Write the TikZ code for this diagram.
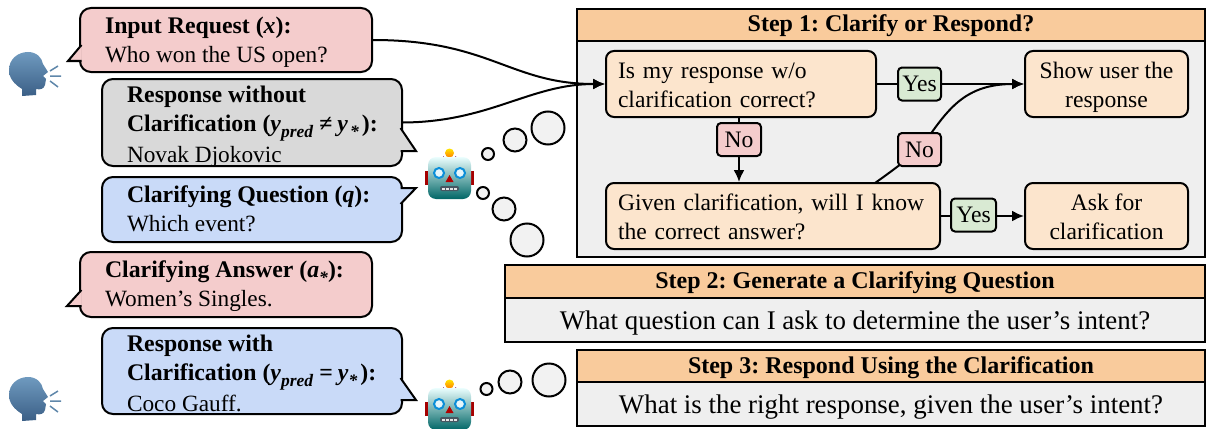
\documentclass[tikz,border=0pt]{standalone}
\usepackage{fontspec}
\setmainfont{Liberation Serif}
\usetikzlibrary{arrows.meta}
\definecolor{pinkfill}{HTML}{F4CCCC}
\definecolor{greyfill}{HTML}{D9D9D9}
\definecolor{bluefill}{HTML}{C9DAF8}
\definecolor{headfill}{HTML}{F9CB9C}
\definecolor{boxfill}{HTML}{FCE5CD}
\definecolor{yesfill}{HTML}{D9EAD3}
\definecolor{bodyfill}{HTML}{EFEFEF}
\definecolor{voicetop}{HTML}{6F9ABF}
\definecolor{voicelow}{HTML}{3B5F86}
\definecolor{raycol}{HTML}{5F87AA}
\newcommand{\bubblefont}{\frenchspacing\fontsize{23.3}{29}\selectfont}
\newcommand{\flowfont}{\frenchspacing\fontsize{23.6}{29}\selectfont}
\newcommand{\linestrut}{\rule[-8.7pt]{0pt}{29pt}}
\newcommand{\firststrut}{\rule[-8.7pt]{0pt}{35pt}}
\newcommand{\bubblehead}[1]{{\fontsize{23.8}{29}\selectfont\bfseries #1}}
\newcommand{\lowtext}[1]{\raisebox{-6pt}{\fontsize{17.5}{18}\selectfont\textit{#1}}}
\tikzset{
  every picture/.style={
    line width=2pt,
    >={Latex[width=11pt, length=12pt]}
  },
  bubble/.style={
    draw, rounded corners=11pt, inner sep=0pt
  },
  bubbletext/.style={
    anchor=west, align=left, inner sep=0pt, xshift=25pt, yshift=-2pt, font=\bubblefont
  },
  bubbletail/.style={
    fill=#1, line join=miter
  },
  stephead/.style={
    draw, fill=headfill, inner sep=0pt, text height=20pt, text depth=6pt,
    font=\frenchspacing\fontsize{24}{29}\selectfont\bfseries
  },
  stepbody/.style={
    draw, fill=bodyfill, inner sep=0pt, text height=24pt, text depth=6pt,
    font=\frenchspacing\fontsize{26.9}{32}\selectfont
  },
  question/.style={
    draw, fill=boxfill, rounded corners=8pt, minimum height=66pt, inner xsep=12pt, inner ysep=0pt, font=\flowfont
  },
  answer/.style={
    draw, rounded corners=4pt, inner sep=0pt, minimum height=33pt, font=\flowfont
  },
  thought/.style={
    circle, draw, fill=black!5, inner sep=0pt, minimum size=#1
  },
  speaker/.pic={
    \shade[top color=voicetop, bottom color=voicelow]
      (13,44) -- (13,37) .. controls (5,32) and (0,26) .. (0,18)
      .. controls (0,7) and (9,0) .. (19,0) .. controls (28,0) and (33,6) .. (34,12)
      -- (39,20) -- (34,24) -- (37,27) -- (36,33) .. controls (35,37) and (31,38) .. (27,37)
      -- (27,43) -- cycle;
    \draw[line width=1.5pt, color=raycol] (41,19) -- (49,14) (41,24) -- (52,24) (41,29) -- (49,35);
  },
  robot/.pic={
    \fill[red!65!black] (0,23) rectangle (49,37);
    \shade[top color=yellow!80!orange, bottom color=orange] (24.5,5) circle (4.5);
    \fill[violet!60!gray] (18,8) .. controls (20,12) and (29,12) .. (31,8) -- (31,10) -- (18,10) -- cycle;
    \shade[rounded corners=8pt, top color=black!5!cyan!8!white, middle color=cyan!30!gray!60, bottom color=cyan!40!black]
      (3,9) rectangle (46,51);
    \draw[color=cyan!75!blue, fill=black!5!cyan!10] (14,25) circle (5) (35,25) circle (5);
    \fill[red!70!black] (24.5,27) -- (20.5,34) -- (28.5,34) -- cycle;
    \fill[rounded corners=2pt, color=black!70!cyan] (15,38) rectangle (34,43);
    \foreach \tooth in {17,21,25,29}
      \fill[black!10] (\tooth,39.5) rectangle +(3,2.5);
  }
}
\begin{document}
\begin{tikzpicture}[x=1pt, y=-1pt]
  \useasboundingbox (0,0) rectangle (1206,428);
  % speech bubbles
  \node[bubble, fill=pinkfill, minimum width=292pt, minimum height=64pt] (input) at (226,40) {};
  \node[bubbletext] (inputtext) at (input.west)
    {\linestrut\bubblehead{Input Request (\textit{x}):}\\Who won the US open?\linestrut};
  \node[bubble, fill=greyfill, minimum width=300pt, minimum height=87pt] (nocl) at (252,122.5) {};
  \node[bubbletext, yshift=-2pt] (nocltext) at (nocl.west)
    {\linestrut\bubblehead{Response without}\\\bubblehead{Clarification (\textit{y}\lowtext{pred}\hspace{6pt}≠\hspace{5pt}\textit{y}\hspace{2pt}\lowtext{*}\hspace{3pt}):}\\Novak Djokovic\linestrut};
  \node[bubble, fill=bluefill, minimum width=300pt, minimum height=65pt] (cq) at (252,209.5) {};
  \node[bubbletext] (cqtext) at (cq.west)
    {\linestrut\bubblehead{Clarifying Question (\textit{q}):}\\Which event?\linestrut};
  \node[bubble, fill=pinkfill, minimum width=292pt, minimum height=65pt] (ca) at (226,284.5) {};
  \node[bubbletext] (catext) at (ca.west)
    {\linestrut\bubblehead{Clarifying Answer (\textit{a}\lowtext{*}):}\\Women’s Singles.\linestrut};
  \node[bubble, fill=bluefill, minimum width=300pt, minimum height=86pt] (wcl) at (252,371) {};
  \node[bubbletext, yshift=-2.5pt] (wcltext) at (wcl.west)
    {\linestrut\bubblehead{Response with}\\\bubblehead{Clarification (\textit{y}\lowtext{pred}\hspace{6pt}=\hspace{5pt}\textit{y}\lowtext{*}\hspace{3pt}):}\\Coco Gauff.\linestrut};
  \draw[bubbletail=pinkfill] (81.5,45) -- (68,61) -- (81.5,61);
  \draw[bubbletail=pinkfill] (81.5,290) -- (67,306) -- (81.5,306);
  \draw[bubbletail=greyfill] (400.5,128) -- (416,151) -- (400.5,151);
  \draw[bubbletail=bluefill] (400.5,188) -- (416,188) -- (400.5,204);
  \draw[bubbletail=bluefill] (400.5,378) -- (416,400) -- (400.5,400);
  % emoji
  \pic at (9,52) {speaker};
  \pic at (9,377) {speaker};
  \pic at (425,148) {robot};
  \pic at (425,379) {robot};
  % thought clouds
  \node[thought=12pt] (ta1) at (488,154) {};
  \node[thought=23pt] (ta2) at (515,140) {};
  \node[thought=33pt] (ta3) at (548,128) {};
  \node[thought=12pt] (tb1) at (483,193) {};
  \node[thought=23pt] (tb2) at (504,209) {};
  \node[thought=33pt] (tb3) at (527,240) {};
  \node[thought=12pt] (tc1) at (486.5,389) {};
  \node[thought=23pt] (tc2) at (510,382) {};
  \node[thought=33pt] (tc3) at (549,380) {};
  % step 1
  \node[stephead, minimum width=628pt, minimum height=32pt] (head1) at (891,25) {Step 1: Clarify or Respond?};
  \node[draw, fill=bodyfill, minimum width=628pt, minimum height=216pt] (body1) at (891,149) {};
  \node[question, text width=246pt, align=left] (ask1) at (741,84) {\firststrut Is my response w/o\\clarification correct?\linestrut};
  \node[question, minimum width=163pt, align=center] (show) at (1106.5,84) {\firststrut Show user the\\response\linestrut};
  \node[question, text width=310pt, align=left] (ask2) at (773,216) {\firststrut Given clarification, will I know\\the correct answer?\linestrut};
  \node[question, minimum width=163pt, align=center] (clar) at (1106.5,216) {\firststrut Ask for\\clarification\linestrut};
  \coordinate (ask2out) at (875,183);
  \draw[->] (input.east) .. controls (490,40) and (510,84) .. (ask1.west);
  \draw[->] (nocl.east) .. controls (490,122) and (530,84) .. (ask1.west);
  \draw[->] (ask1.east) -- (show.west);
  \draw[->] (ask1.south -| 739,0) -- (ask2.north -| 739,0);
  \draw[->] (ask2.east) -- (clar.west);
  \draw[->] (ask2out) .. controls (885,176) and (900,165) .. (919,150)
    .. controls (945,115) and (960,84) .. (show.west);
  \node[answer, fill=yesfill, minimum width=43pt] (yes1) at (919.5,84) {Yes};
  \node[answer, fill=pinkfill, minimum width=44pt] (no1) at (739,139.5) {No};
  \node[answer, fill=pinkfill, minimum width=43pt] (no2) at (919.5,149.5) {No};
  \node[answer, fill=yesfill, minimum width=45pt] (yes2) at (973.5,215) {Yes};
  % step 2
  \node[stephead, minimum width=700pt, minimum height=33pt] (head2) at (855,281.5) {Step 2: Generate a Clarifying Question};
  \node[stepbody, minimum width=700pt, minimum height=44pt] (body2) at (855,320) {What question can I ask to determine the user’s intent?};
  % step 3
  \node[stephead, minimum width=628pt, minimum height=32pt] (head3) at (891,366) {Step 3: Respond Using the Clarification};
  \node[stepbody, minimum width=628pt, minimum height=44pt] (body3) at (891,404) {What is the right response, given the user’s intent?};
\end{tikzpicture}
\end{document}
